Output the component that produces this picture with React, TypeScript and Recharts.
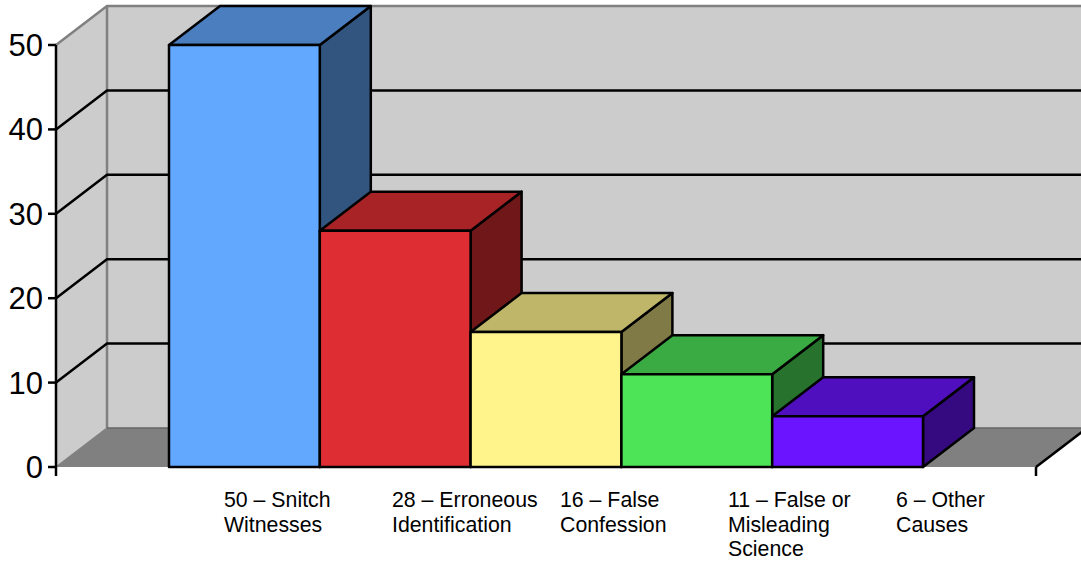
// 3D-style column chart: five causes drawn as extruded bars in front of a box-shaped backdrop
import { Bar, BarChart, Legend, XAxis, YAxis, usePlotArea } from "recharts";

const causeLabels = [
  "50 – Snitch Witnesses",
  "28 – Erroneous Identification",
  "16 – False Confession",
  "11 – False or Misleading Science",
  "6 – Other Causes",
];
const causeValues = [50, 28, 16, 11, 6];
const frontColors = ["#63A8FF", "#DF2E33", "#FFF38C", "#4EE458", "#6A14FF"];
const topColors = ["#4A7EBF", "#A72326", "#BFB669", "#3AAB42", "#500FBF"];
const sideColors = ["#325580", "#701719", "#807A46", "#27722C", "#350A80"];
const yTicks = [0, 10, 20, 30, 40, 50];
const yMax = 50;

// extrusion of the fake perspective
const DEPTH_X = 51;
const DEPTH_Y = 39;
const EDGE = 2.5;
const FONT = "'Liberation Sans', Arial, sans-serif";

const row: Record<string, string | number> = { name: "Causes" };
causeLabels.forEach((label, i) => {
  row[label] = causeValues[i];
});
const chartData = [row];

// walls, floor, gridlines and the two end ticks of the x axis
function Backdrop() {
  const plot = usePlotArea();
  if (!plot) return null;
  const left = plot.x;
  const right = plot.x + plot.width;
  const top = plot.y;
  const bottom = plot.y + plot.height;
  const backLeft = left + DEPTH_X;
  const backRight = right + DEPTH_X;
  const backBottom = bottom - DEPTH_Y;
  const backTop = top - DEPTH_Y;
  const yOf = (v: number) => bottom - (v / yMax) * plot.height;

  return (
    <g>
      <rect x={backLeft} y={backTop} width={backRight - backLeft} height={backBottom - backTop} fill="#CCCCCC" />
      <polygon
        points={`${left},${bottom} ${backLeft},${backBottom} ${backLeft},${backTop} ${left},${top}`}
        fill="#CCCCCC"
      />
      <polygon
        points={`${left},${bottom} ${right},${bottom} ${backRight},${backBottom} ${backLeft},${backBottom}`}
        fill="#808080"
      />
      <polyline
        points={`${left},${top} ${backLeft},${backTop} ${backRight},${backTop}`}
        fill="none"
        stroke="#808080"
        strokeWidth={EDGE}
      />
      <line x1={backLeft} y1={backTop} x2={backLeft} y2={backBottom} stroke="#808080" strokeWidth={EDGE} />
      <line x1={left} y1={bottom} x2={backLeft} y2={backBottom} stroke="#808080" strokeWidth={1.5} />
      <line x1={backLeft} y1={backBottom} x2={backRight} y2={backBottom} stroke="#666666" strokeWidth={1.5} />
      {yTicks
        .filter((v) => v > 0 && v < yMax)
        .map((v) => (
          <polyline
            key={v}
            points={`${left},${yOf(v)} ${backLeft},${yOf(v) - DEPTH_Y} ${backRight},${yOf(v) - DEPTH_Y}`}
            fill="none"
            stroke="#000"
            strokeWidth={EDGE}
          />
        ))}
      <line x1={right} y1={bottom} x2={backRight} y2={backBottom} stroke="#000" strokeWidth={EDGE} />
      <line x1={left} y1={bottom} x2={left} y2={bottom + 9} stroke="#000" strokeWidth={EDGE} />
      <line x1={right} y1={bottom} x2={right} y2={bottom + 9} stroke="#000" strokeWidth={EDGE} />
    </g>
  );
}

// front face from the library's rectangle, plus the top and side faces
function makeBox(topFill: string, sideFill: string) {
  return function Box(props: any) {
    const { x, y, width, height, fill } = props;
    const r = x + width;
    const b = y + height;
    return (
      <g stroke="#000" strokeWidth={EDGE} strokeLinejoin="round">
        <polygon
          points={`${r},${y} ${r + DEPTH_X},${y - DEPTH_Y} ${r + DEPTH_X},${b - DEPTH_Y} ${r},${b}`}
          fill={sideFill}
        />
        <polygon
          points={`${x},${y} ${x + DEPTH_X},${y - DEPTH_Y} ${r + DEPTH_X},${y - DEPTH_Y} ${r},${y}`}
          fill={topFill}
        />
        <rect x={x} y={y} width={width} height={height} fill={fill} />
      </g>
    );
  };
}

function CauseLegend({ payload }: any) {
  return (
    <div style={{ display: "flex", paddingLeft: 224, paddingTop: 21 }}>
      {(payload ?? []).map((entry: any) => (
        <div
          key={entry.value}
          style={{
            width: 168,
            paddingRight: 7,
            boxSizing: "border-box",
            fontFamily: FONT,
            fontSize: 21.3,
            lineHeight: "24.5px",
            color: "#000",
          }}
        >
          {entry.value}
        </div>
      ))}
    </div>
  );
}

export default function App() {
  return (
    <div style={{ position: "absolute", left: 0, top: 0 }}>
      <BarChart
        width={1081}
        height={561}
        data={chartData}
        margin={{ top: 45, right: 45, bottom: 0, left: 0 }}
        barGap={0}
        barSize={150.8}
      >
        <Backdrop />
        <XAxis dataKey="name" tick={false} tickLine={false} height={0} axisLine={{ stroke: "#000", strokeWidth: 3 }} />
        <YAxis
          domain={[0, yMax]}
          ticks={yTicks}
          width={56}
          interval={0}
          tickSize={8}
          tickMargin={5}
          axisLine={{ stroke: "#000", strokeWidth: EDGE }}
          tickLine={{ stroke: "#000", strokeWidth: EDGE }}
          tick={{ fill: "#000", fontSize: 31, fontFamily: FONT }}
        />
        {causeLabels.map((label, i) => (
          <Bar
            key={label}
            dataKey={label}
            fill={frontColors[i]}
            shape={makeBox(topColors[i], sideColors[i])}
            isAnimationActive={false}
          />
        ))}
        <Legend
          verticalAlign="bottom"
          height={94}
          itemSorter={null}
          wrapperStyle={{ left: 0, width: 1081 }}
          content={<CauseLegend />}
        />
      </BarChart>
    </div>
  );
}
